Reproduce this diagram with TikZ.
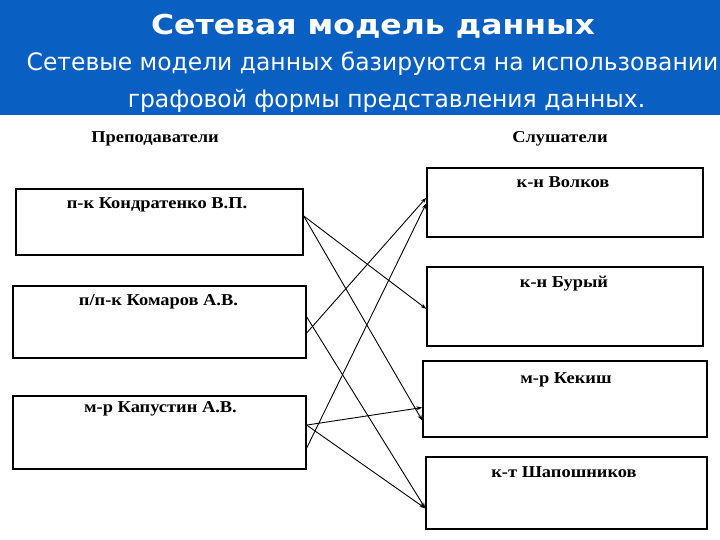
\documentclass[tikz,border=0pt]{standalone}
\usepackage{fontspec}
\setmainfont{Liberation Serif}
\newfontfamily\titlefont{DejaVu Sans}
\usetikzlibrary{arrows.meta,calc}
\definecolor{barblue}{RGB}{10,95,195}
\newcommand{\wide}[1]{\scalebox{1.11}[1]{#1}}
\tikzset{
  box/.style={draw=black, line width=1.3pt, fill=white, inner sep=0pt},
  lbl/.style={anchor=base, inner sep=0pt, font=\bfseries\fontsize{16.6}{19}\selectfont},
  conn/.style={draw=black, line width=0.9pt, -{Stealth[length=6pt,width=4pt]}},
  subt/.style={anchor=base, inner sep=0pt, text=white, font=\titlefont\fontsize{24}{28}\selectfont},
}
\begin{document}
\begin{tikzpicture}[x=1pt,y=-1pt]
\useasboundingbox (0,0) rectangle (720,540);
\fill[barblue] (0,0) rectangle (720,115);
\node[anchor=base, inner sep=0pt, text=white, font=\titlefont\bfseries\fontsize{27.4}{30}\selectfont] (title) at (373,35) {\scalebox{1.15}[1]{Сетевая модель данных}};
\node[subt] (sub1) at (372.5,71) {\scalebox{0.976}[1]{Сетевые модели данных базируются на использовании}};
\node[subt] (sub2) at (386.5,108) {\scalebox{0.976}[1]{графовой формы представления данных.}};

\node[lbl] (hl) at (155,143) {\wide{Преподаватели}};
\node[lbl] (hr) at (560,143) {\wide{Слушатели}};

% left boxes
\node[box, minimum width=287pt, minimum height=66pt] (p1) at (159.5,222) {};
\node[box, minimum width=293pt, minimum height=72pt] (p2) at (159.5,322) {};
\node[box, minimum width=293pt, minimum height=73pt] (p3) at (159.5,432.5) {};
% right boxes
\node[box, minimum width=276pt, minimum height=69pt] (sA) at (565,202.5) {};
\node[box, minimum width=276pt, minimum height=79pt] (sB) at (565,306.5) {};
\node[box, minimum width=284pt, minimum height=76pt] (sC) at (565,399) {};
\node[box, minimum width=281pt, minimum height=72pt] (sD) at (566.5,493) {};

\node[lbl] (t1) at (157,208) {\wide{п-к Кондратенко В.П.}};
\node[lbl] (t2) at (158.5,305) {\wide{п/п-к Комаров А.В.}};
\node[lbl] (t3) at (160.5,412) {\wide{м-р Капустин А.В.}};
\node[lbl] (tA) at (563,188) {\wide{к-н Волков}};
\node[lbl] (tB) at (564,287) {\wide{к-н Бурый}};
\node[lbl] (tC) at (566,383) {\wide{м-р Кекиш}};
\node[lbl] (tD) at (564,477) {\wide{к-т Шапошников}};

% connectors
\draw[conn] ($(p1.north east)!0.41!(p1.south east)$) -- ($(sB.north west)!0.53!(sB.south west)$);
\draw[conn] ($(p1.north east)!0.41!(p1.south east)$) -- ($(sC.north west)!0.78!(sC.south west)$);
\draw[conn] ($(p2.north east)!0.65!(p2.south east)$) -- ($(sA.north west)!0.43!(sA.south west)$);
\draw[conn] ($(p2.north east)!0.43!(p2.south east)$) -- ($(sD.north west)!0.71!(sD.south west)$);
\draw[conn] ($(p3.north east)!0.40!(p3.south east)$) -- ($(sC.north west)!0.61!(sC.south west)$);
\draw[conn] ($(p3.north east)!0.40!(p3.south east)$) -- ($(sD.north west)!0.71!(sD.south west)$);
\draw[conn] ($(p3.north east)!0.71!(p3.south east)$) -- ($(sA.north west)!0.51!(sA.south west)$);
\end{tikzpicture}
\end{document}
